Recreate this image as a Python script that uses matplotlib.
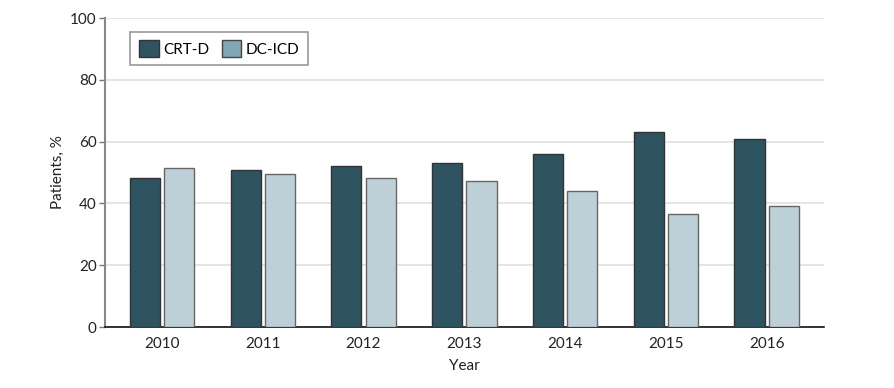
import matplotlib.pyplot as plt
from matplotlib.patches import Patch
import numpy as np

years = ["2010", "2011", "2012", "2013", "2014", "2015", "2016"]
crt_d = [48.2, 50.8, 52.1, 53.1, 56.1, 63.1, 60.8]
dc_icd = [51.6, 49.4, 48.1, 47.1, 44.0, 36.7, 39.1]

plt.rcParams['font.family'] = ['Lato', 'DejaVu Sans']

dark = "#2e5461"
light = "#bdd0d8"
legend_light = "#80a7b6"

fig = plt.figure(figsize=(8.94, 3.88), dpi=100)
ax = fig.add_axes([0.1174, 0.1572, 0.8043, 0.7964])

x = np.arange(len(years))
w = 0.30
ax.bar(x - 0.17, crt_d, w, color=dark, edgecolor="#333333", linewidth=1, zorder=3)
ax.bar(x + 0.17, dc_icd, w, color=light, edgecolor="#666666", linewidth=1, zorder=3)

ax.set_xlim(-0.566, 6.57)
ax.set_ylim(0, 100)
ax.set_xticks(x)
ax.set_xticklabels(years)
ax.set_yticks([0, 20, 40, 60, 80, 100])
ax.grid(axis="y", color="#e0e0e0", linewidth=1.2, zorder=0)
ax.tick_params(axis="x", length=0, pad=7, labelsize=11, labelcolor="#222222")
ax.tick_params(axis="y", length=4, width=1, color="#777777", pad=2, labelsize=11, labelcolor="#222222")

for s in ["top", "right"]:
    ax.spines[s].set_visible(False)
ax.spines["left"].set_color("#888888")
ax.spines["left"].set_linewidth(1.5)
ax.spines["bottom"].set_color("#111111")
ax.spines["bottom"].set_linewidth(1.2)

ax.set_xlabel("Year", fontsize=11, color="#222222", labelpad=6)
ax.set_ylabel("Patients, %", fontsize=11, color="#222222", labelpad=4)

handles = [Patch(facecolor=dark, edgecolor="#333333", label="CRT-D"),
           Patch(facecolor=legend_light, edgecolor="#444444", label="DC-ICD")]
leg = ax.legend(handles=handles, loc="upper left", bbox_to_anchor=(0.029, 0.97), ncol=2,
                fontsize=11, frameon=True, fancybox=False, handlelength=1.3, handleheight=1.3,
                columnspacing=0.8, handletextpad=0.3, borderpad=0.55, borderaxespad=0.3)
leg.get_frame().set_edgecolor("#808080")
leg.get_frame().set_linewidth(1.2)
leg.set_zorder(5)

fig.savefig("out.png", dpi=100)
